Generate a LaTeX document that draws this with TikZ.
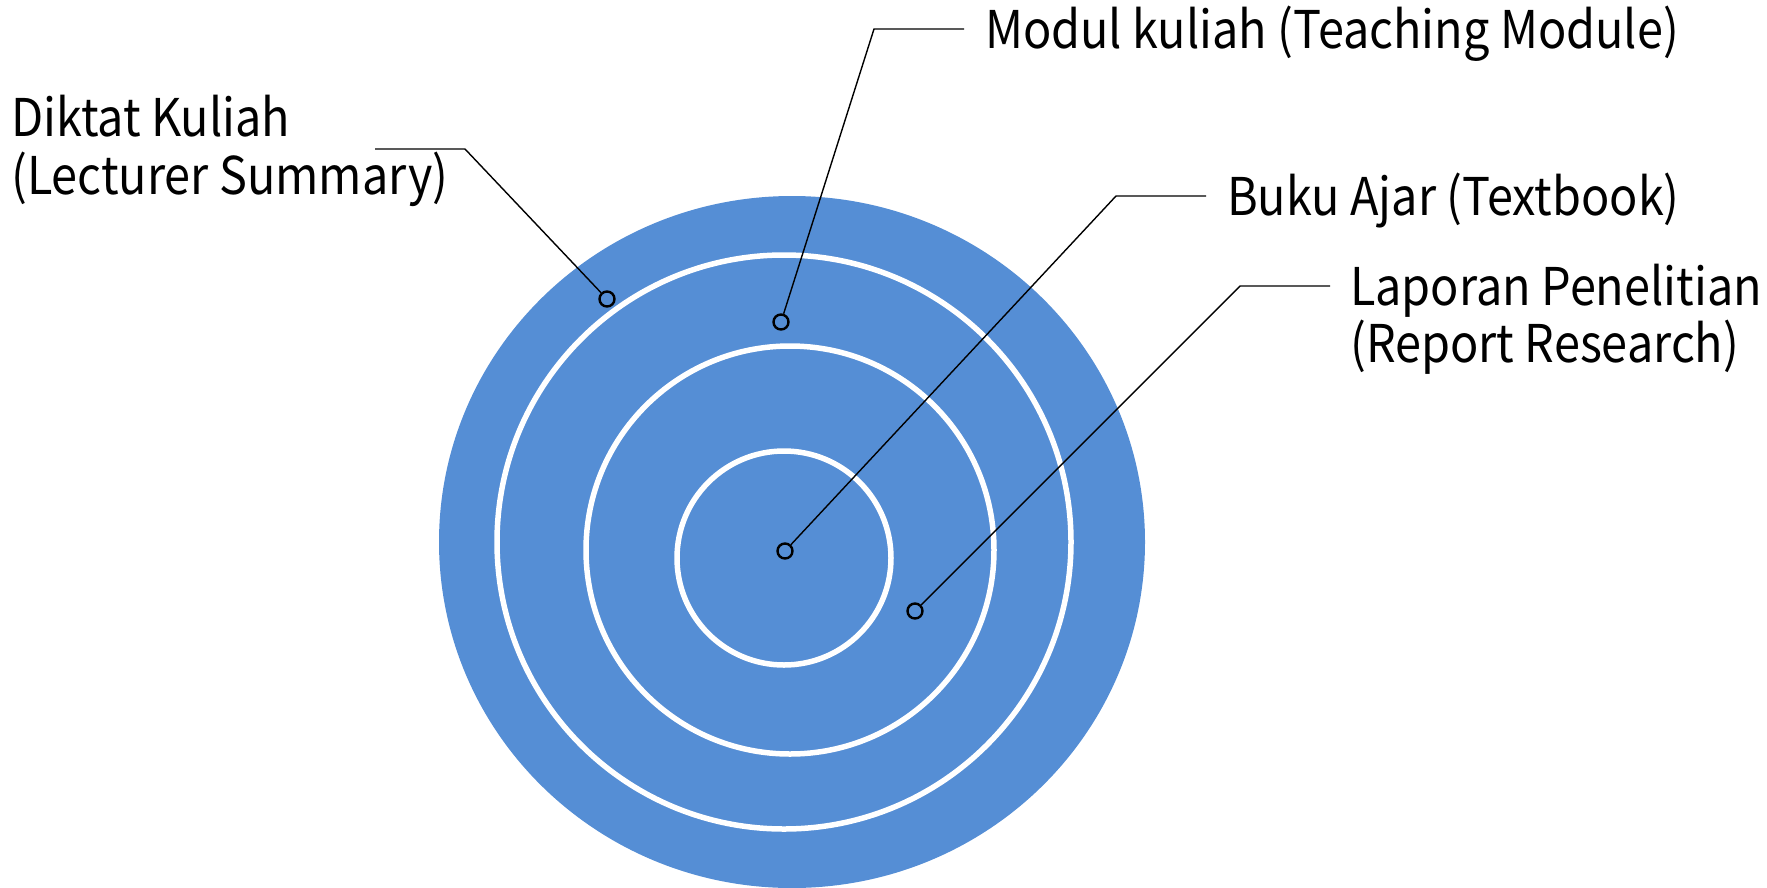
\documentclass[tikz,border=0pt]{standalone}
\usepackage{fontspec}
\setmainfont{Noto Sans CJK KR}[FakeStretch=0.9]
\definecolor{ringblue}{RGB}{85,142,213}
\begin{document}
\begin{tikzpicture}[x=1pt,y=-1pt,
  ringline/.style={draw=white,line width=5.5pt},
  dotmark/.style={circle,draw=black,line width=2.4pt,fill=none,minimum size=15pt,inner sep=0pt},
  leader/.style={draw=black,line width=1.4pt},
  lbl/.style={anchor=base west,inner sep=0pt,font=\fontsize{52}{60}\selectfont,align=left}]
\useasboundingbox (0,0) rectangle (1767,887);
\fill[ringblue] (792,542) ellipse [x radius=353pt, y radius=346pt];
\draw[ringline] (784,542) circle [radius=287pt];
\draw[ringline] (790,550) circle [radius=204pt];
\draw[ringline] (784,558) circle [radius=107pt];
\node[dotmark] (d1) at (607,299) {};
\node[dotmark] (d2) at (781,322) {};
\node[dotmark] (d3) at (785,551) {};
\node[dotmark] (d4) at (915,611) {};
\coordinate (e1) at (465,149); \coordinate (f1) at (375,149);
\coordinate (e2) at (874,29);  \coordinate (f2) at (964,29);
\coordinate (e3) at (1116,196); \coordinate (f3) at (1206,196);
\coordinate (e4) at (1240,286); \coordinate (f4) at (1330,286);
\draw[leader] (d1) -- (e1) -- (f1);
\draw[leader] (d2) -- (e2) -- (f2);
\draw[leader] (d3) -- (e3) -- (f3);
\draw[leader] (d4) -- (e4) -- (f4);
\node[lbl] (t1) at (11,136) {Diktat Kuliah};
\node[lbl] (t1b) at (11,194) {(Lecturer Summary)};
\node[lbl] (t2) at (985,48) {Modul kuliah (Teaching Module)};
\node[lbl] (t3) at (1227,215) {Buku Ajar (Textbook)};
\node[lbl] (t4) at (1350,305) {Laporan Penelitian};
\node[lbl] (t4b) at (1350,362) {(Report Research)};
\end{tikzpicture}
\end{document}
